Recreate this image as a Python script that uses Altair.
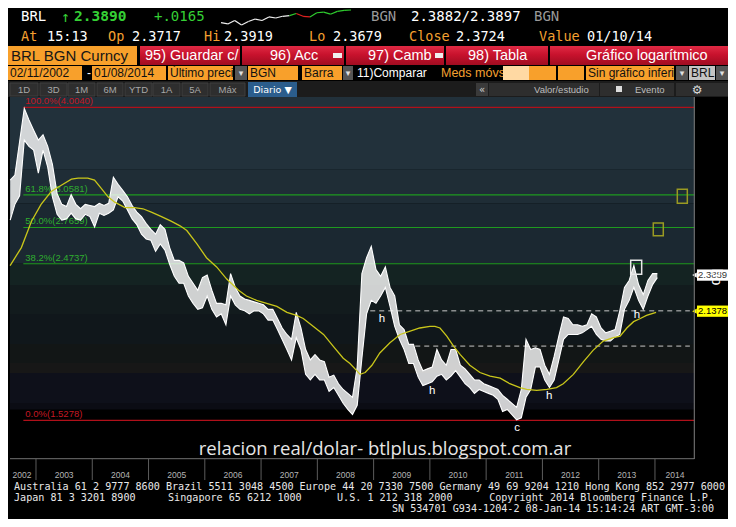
import altair as alt
import pandas as pd

# ------------------------------------------------------------------
# DATA
# ------------------------------------------------------------------
first_year, first_month = 2002, 7
hi_2002 = [3.20, 3.25, 3.60, 3.99, 3.85, 3.73]
lo_2002 = [2.83, 2.97, 3.05, 3.62, 3.55, 3.51]
hi_2003 = [3.62, 3.68, 3.55, 3.36, 3.07, 2.97, 2.95, 3.06, 2.97, 2.93, 2.97, 2.96]
lo_2003 = [3.27, 3.51, 3.33, 3.04, 2.88, 2.83, 2.84, 2.89, 2.84, 2.83, 2.88, 2.86]
hi_2004 = [2.95, 2.98, 2.96, 2.98, 3.23, 3.16, 3.10, 3.04, 2.96, 2.90, 2.86, 2.80]
lo_2004 = [2.77, 2.89, 2.87, 2.89, 2.92, 3.04, 3.00, 2.92, 2.84, 2.79, 2.71, 2.67]
hi_2005 = [2.75, 2.71, 2.79, 2.75, 2.60, 2.50, 2.50, 2.48, 2.38, 2.33, 2.28, 2.37]
lo_2005 = [2.66, 2.57, 2.63, 2.58, 2.47, 2.38, 2.33, 2.33, 2.24, 2.19, 2.15, 2.16]
hi_2006 = [2.39, 2.28, 2.19, 2.19, 2.18, 2.40, 2.30, 2.24, 2.22, 2.21, 2.20, 2.19]
lo_2006 = [2.24, 2.15, 2.10, 2.12, 2.05, 2.24, 2.18, 2.15, 2.14, 2.12, 2.14, 2.14]
hi_2007 = [2.18, 2.15, 2.15, 2.09, 2.03, 1.99, 1.96, 2.13, 2.03, 1.90, 1.84, 1.87]
lo_2007 = [2.12, 2.08, 2.08, 2.02, 1.96, 1.90, 1.84, 1.97, 1.90, 1.76, 1.73, 1.76]
hi_2008 = [1.84, 1.83, 1.745, 1.756, 1.71, 1.68, 1.66, 1.64, 1.80, 2.40, 2.52, 2.61]
lo_2008 = [1.73, 1.73, 1.67, 1.69, 1.65, 1.61, 1.58, 1.555, 1.60, 1.85, 2.12, 2.21]
hi_2009 = [2.43, 2.38, 2.45, 2.30, 2.24, 2.05, 2.02, 1.93, 1.93, 1.84, 1.78, 1.79]
lo_2009 = [2.19, 2.24, 2.30, 2.17, 2.04, 1.96, 1.90, 1.82, 1.82, 1.745, 1.70, 1.71]
hi_2010 = [1.80, 1.90, 1.84, 1.81, 1.90, 1.90, 1.81, 1.79, 1.76, 1.73, 1.73, 1.71]
lo_2010 = [1.72, 1.75, 1.76, 1.73, 1.75, 1.78, 1.745, 1.71, 1.69, 1.66, 1.68, 1.67]
hi_2011 = [1.70, 1.69, 1.68, 1.65, 1.63, 1.61, 1.59, 1.68, 1.96, 1.90, 1.91, 1.90]
lo_2011 = [1.66, 1.65, 1.63, 1.57, 1.58, 1.555, 1.53, 1.54, 1.64, 1.68, 1.80, 1.80]
hi_2012 = [1.81, 1.76, 1.86, 1.98, 2.10, 2.09, 2.05, 2.05, 2.04, 2.05, 2.12, 2.10]
lo_2012 = [1.73, 1.69, 1.73, 1.84, 1.96, 1.99, 1.99, 1.99, 2.00, 2.02, 2.04, 1.99]
hi_2013 = [2.03, 2.00, 2.01, 2.02, 2.14, 2.30, 2.35, 2.46, 2.32, 2.25, 2.35, 2.40]
lo_2013 = [1.96, 1.95, 1.95, 1.975, 1.99, 2.15, 2.21, 2.30, 2.21, 2.15, 2.24, 2.32]
hi_2014 = [2.40]
lo_2014 = [2.37]

ma_year = [2002.54, 2002.74, 2002.92, 2003.09, 2003.27, 2003.45, 2003.63, 2003.75, 2003.92,
           2004.04, 2004.16, 2004.28, 2004.40, 2004.58, 2004.75, 2004.90, 2005.05, 2005.23,
           2005.40, 2005.56, 2005.68, 2005.86, 2006.03, 2006.21, 2006.39, 2006.60, 2006.74,
           2006.92, 2007.10, 2007.28, 2007.46, 2007.63, 2007.75, 2007.93, 2008.11, 2008.28,
           2008.46, 2008.58, 2008.67, 2008.76, 2008.85, 2008.97, 2009.11, 2009.29, 2009.47,
           2009.65, 2009.82, 2010.00, 2010.09, 2010.18, 2010.30, 2010.42, 2010.54, 2010.71,
           2010.89, 2011.07, 2011.25, 2011.42, 2011.60, 2011.72, 2011.90, 2012.08, 2012.25,
           2012.37, 2012.55, 2012.73, 2012.90, 2013.08, 2013.26, 2013.38, 2013.50, 2013.62,
           2013.74, 2013.85, 2014.02]
ma_value = [2.46, 2.60, 2.82, 2.97, 3.09, 3.15, 3.21, 3.22, 3.22,
            3.20, 3.12, 3.04, 2.99, 2.94, 2.94, 2.93, 2.90, 2.86,
            2.82, 2.78, 2.74, 2.63, 2.52, 2.45, 2.36, 2.28, 2.24,
            2.21, 2.19, 2.17, 2.13, 2.11, 2.09, 2.04, 1.99, 1.92,
            1.85, 1.82, 1.79, 1.76, 1.77, 1.81, 1.88, 1.94, 1.99,
            2.01, 2.03, 2.04, 2.04, 2.03, 1.98, 1.92, 1.87, 1.81,
            1.77, 1.75, 1.74, 1.71, 1.69, 1.68, 1.675, 1.68, 1.69,
            1.71, 1.76, 1.83, 1.895, 1.95, 1.97, 1.98, 2.03, 2.07,
            2.09, 2.11, 2.13]

fib_level = [4.0040, 3.0581, 2.7659, 2.4737, 1.5278]
fib_label = ["100.0%(4.0040)", "61.8%(3.0581)", "50.0%(2.7659)", "38.2%(2.4737)", "0.0%(1.5278)"]
fib_start = 2002.775

dash_level = [2.14, 1.92]
dash_start = [2008.94, 2009.74]
dash_end = [2014.62, 2014.62]

note_text = ["h", "h", "h", "h", "c"]
note_year = [2009.15, 2010.04, 2012.12, 2013.68, 2011.55]
note_value = [2.09, 1.671, 1.645, 2.113, 1.494]

sq_x0 = [2013.569, 2013.970, 2014.397]
sq_x1 = [2013.764, 2014.148, 2014.575]
sq_top = [2.500, 2.804, 3.111]
sq_bot = [2.395, 2.697, 2.980]
sq_kind = ["white", "olive", "olive"]

last_price = 2.3889
ma_last = 2.1378

axis_values = [1.5, 2.0, 2.5, 3.0, 3.5, 4.0]
year_labels = [str(y) for y in range(2002, 2015)]
year_label_pos = [2002.751] + [y + 0.5 for y in range(2003, 2014)] + [2014.356]
year_bounds = list(range(2003, 2015))

band_top = [4.133, 3.305, 2.98, 2.4737, 2.317, 2.119, 1.932, 1.823, 1.767, 1.612]
band_bot = [3.305, 2.98, 2.4737, 2.317, 2.119, 1.932, 1.823, 1.767, 1.612, 1.580]
plot_left, plot_right = 2002.538, 2014.699

spark_price = [2.3716, 2.3695, 2.3748, 2.3679, 2.3732, 2.3770, 2.3748, 2.3802, 2.3786, 2.3812,
               2.3823, 2.3855, 2.3812, 2.3802, 2.3866, 2.3876, 2.3844, 2.3887, 2.3903, 2.3908]
spark_state = ["w"] * 11 + ["g"] + ["r", "r"] + ["g"] * 6

# ------------------------------------------------------------------
# STYLE
# ------------------------------------------------------------------
band_color = ["#22313b", "#1f2d36", "#1b2831", "#142322", "#121b1d",
              "#10171b", "#121616", "#171717", "#0e101a", "#0b0c14"]
fib_line_color = ["#b0101a", "#1f9a1f", "#1f9a1f", "#1f9a1f", "#b0101a"]
fib_text_color = ["#c41824", "#2fae2f", "#2fae2f", "#2fae2f", "#c41824"]
sq_color = {"white": "#e8e8e8", "olive": "#9a9a22"}
spark_color = {"w": "#f0f0f0", "g": "#2ecc2e", "r": "#e02020"}
ORANGE = "#f8a02b"
ORANGE_TXT = "#f5a030"
GREEN = "#35d035"

OX, OY = 8, 8
W, H = 720, 511
X_DOM = [2002.5024, 2015.298]
Y_DOM = [1.12765, 5.4354]
xs = alt.Scale(domain=X_DOM, nice=False, zero=False)
ys = alt.Scale(type="log", domain=Y_DOM, nice=False)

# ------------------------------------------------------------------
# TABLES
# ------------------------------------------------------------------
hi_all = hi_2002 + hi_2003 + hi_2004 + hi_2005 + hi_2006 + hi_2007 + hi_2008 + hi_2009 + \
    hi_2010 + hi_2011 + hi_2012 + hi_2013 + hi_2014
lo_all = lo_2002 + lo_2003 + lo_2004 + lo_2005 + lo_2006 + lo_2007 + lo_2008 + lo_2009 + \
    lo_2010 + lo_2011 + lo_2012 + lo_2013 + lo_2014
yrs = []
y, m = first_year, first_month
for _ in hi_all:
    yrs.append(y + (m - 0.5) / 12.0)
    m += 1
    if m > 12:
        m, y = 1, y + 1
price_df = pd.DataFrame({"yr": yrs, "hi": hi_all, "lo": lo_all})
ma_df = pd.DataFrame({"yr": ma_year, "v": ma_value})
fib_df = pd.DataFrame({"lvl": fib_level, "lab": fib_label, "x0": fib_start, "x1": plot_right,
                       "lc": fib_line_color, "tc": fib_text_color})
dash_df = pd.DataFrame({"v": dash_level, "x0": dash_start, "x1": dash_end})
note_df = pd.DataFrame({"t": note_text, "yr": note_year, "v": note_value})
sq_df = pd.DataFrame({"x0": sq_x0, "x1": sq_x1, "top": sq_top, "bot": sq_bot,
                      "c": [sq_color[k] for k in sq_kind]})
band_df = pd.DataFrame({"x0": plot_left, "x1": plot_right, "top": band_top, "bot": band_bot,
                        "c": band_color})
half = 1.0175
vb_df = pd.DataFrame({"v": [last_price, ma_last], "t": ["%.4f" % last_price, "%.4f" % ma_last],
                      "f": ["#ffffff", "#ffff00"], "tc": ["#333333", "#000000"]})
vb_df["vt"] = vb_df["v"] * half
vb_df["vb"] = vb_df["v"] / half
yl_df = pd.DataFrame({"lab": year_labels, "pos": year_label_pos})
yb_df = pd.DataFrame({"pos": year_bounds})
frame_df = pd.DataFrame({"x0": [plot_left], "x1": [plot_right]})

seg_rows = []
for i in range(len(spark_price) - 1):
    seg_rows.append({"i0": i, "i1": i + 1, "p0": spark_price[i], "p1": spark_price[i + 1],
                     "c": spark_color[spark_state[i + 1]]})
spark_df = pd.DataFrame(seg_rows)

# ------------------------------------------------------------------
# MAIN PLOT LAYERS
# ------------------------------------------------------------------
xticks = [2002.6667] + [yy + k / 3.0 for yy in range(2003, 2015) for k in range(3)]
xticks = [t for t in xticks if t <= 2014.69]
x_axis = alt.Axis(orient="bottom", offset=-60.3, values=xticks, labels=False, domain=False,
                  grid=False, ticks=True, tickColor="#8a8a8a", tickSize=3, title=None)
y_axis = alt.Axis(orient="right", offset=-33.7, values=axis_values, format=".4f", domain=False,
                  grid=False, ticks=True, tickColor="#ffffff", tickSize=3, tickWidth=2,
                  labelColor="#d2d2d2", labelFont="Liberation Sans", labelFontSize=9,
                  labelPadding=3, title=None)

bands = alt.Chart(band_df).mark_rect().encode(
    x=alt.X("x0:Q", scale=xs, axis=x_axis), x2="x1:Q",
    y=alt.Y("top:Q", scale=ys, axis=y_axis), y2="bot:Q",
    color=alt.Color("c:N", scale=None))

fib_rules = alt.Chart(fib_df).mark_rule(strokeWidth=1.2).encode(
    x=alt.X("x0:Q", scale=xs, axis=None), x2="x1:Q",
    y=alt.Y("lvl:Q", scale=ys, axis=None),
    color=alt.Color("lc:N", scale=None))
fib_text = alt.Chart(fib_df).mark_text(align="left", baseline="bottom", dx=2, dy=-1,
                                      font="Liberation Sans", fontSize=9.5).encode(
    x=alt.X("x0:Q", scale=xs, axis=None), y=alt.Y("lvl:Q", scale=ys, axis=None),
    text="lab:N", color=alt.Color("tc:N", scale=None))

dashes = alt.Chart(dash_df).mark_rule(color="#c8c8c8", strokeDash=[5, 4], strokeWidth=1).encode(
    x=alt.X("x0:Q", scale=xs, axis=None), x2="x1:Q", y=alt.Y("v:Q", scale=ys, axis=None))

p_area = alt.Chart(price_df).mark_area(color="#ffffff", opacity=0.8).encode(
    x=alt.X("yr:Q", scale=xs, axis=None), y=alt.Y("lo:Q", scale=ys, axis=None), y2="hi:Q")
p_hi = alt.Chart(price_df).mark_line(color="#ffffff", strokeWidth=1.1).encode(
    x=alt.X("yr:Q", scale=xs, axis=None), y=alt.Y("hi:Q", scale=ys, axis=None))
p_lo = alt.Chart(price_df).mark_line(color="#ffffff", strokeWidth=1.1).encode(
    x=alt.X("yr:Q", scale=xs, axis=None), y=alt.Y("lo:Q", scale=ys, axis=None))

ma_line = alt.Chart(ma_df).mark_line(color="#c9c61a", strokeWidth=1.3).encode(
    x=alt.X("yr:Q", scale=xs, axis=None), y=alt.Y("v:Q", scale=ys, axis=None))

squares = alt.Chart(sq_df).mark_rect(fillOpacity=0, strokeWidth=1.5).encode(
    x=alt.X("x0:Q", scale=xs, axis=None), x2="x1:Q",
    y=alt.Y("top:Q", scale=ys, axis=None), y2="bot:Q",
    stroke=alt.Stroke("c:N", scale=None))

notes = alt.Chart(note_df).mark_text(fill="#ffffff", font="Liberation Sans", fontSize=11.5).encode(
    x=alt.X("yr:Q", scale=xs, axis=None), y=alt.Y("v:Q", scale=ys, axis=None), text="t:N")

vb_rect = alt.Chart(vb_df).mark_rect().encode(
    x=alt.value(689), x2=alt.value(720),
    y=alt.Y("vt:Q", scale=ys, axis=None), y2="vb:Q", color=alt.Color("f:N", scale=None))
vb_tri = alt.Chart(vb_df).mark_point(shape="triangle-left", filled=True, size=28, opacity=1).encode(
    x=alt.value(686.5), y=alt.Y("v:Q", scale=ys, axis=None), color=alt.Color("f:N", scale=None))
vb_text = alt.Chart(vb_df).mark_text(font="Liberation Sans", fontSize=9.5, align="center").encode(
    x=alt.value(704.5), y=alt.Y("v:Q", scale=ys, axis=None), text="t:N",
    color=alt.Color("tc:N", scale=None))

frame_b = alt.Chart(frame_df).mark_rule(color="#707070", strokeWidth=1).encode(
    x=alt.X("x0:Q", scale=xs, axis=None), x2="x1:Q", y=alt.value(450.7))
frame_r = alt.Chart(frame_df).mark_rule(color="#808080", strokeWidth=1).encode(
    x=alt.X("x1:Q", scale=xs, axis=None), y=alt.value(89), y2=alt.value(451))
yb_rules = alt.Chart(yb_df).mark_rule(color="#5c5c5c", strokeWidth=1).encode(
    x=alt.X("pos:Q", scale=xs, axis=None), y=alt.value(451), y2=alt.value(472))
yl_text = alt.Chart(yl_df).mark_text(color="#b4b4b4", font="Liberation Sans", fontSize=8.5).encode(
    x=alt.X("pos:Q", scale=xs, axis=None), y=alt.value(467), text="lab:N")

main = alt.layer(bands, fib_rules, fib_text, dashes, p_area, p_hi, p_lo, ma_line,
                 squares, notes, vb_rect, vb_tri, vb_text, frame_b, frame_r, yb_rules, yl_text)

spark = alt.Chart(spark_df).mark_rule(strokeWidth=1.2).encode(
    x=alt.X("i0:Q", scale=alt.Scale(domain=[0, len(spark_price) - 1], range=[213, 343]), axis=None),
    x2="i1:Q",
    y=alt.Y("p0:Q", scale=alt.Scale(domain=[min(spark_price), max(spark_price)], range=[17, 2],
                                     zero=False, nice=False), axis=None),
    y2="p1:Q",
    color=alt.Color("c:N", scale=None))

# ------------------------------------------------------------------
# TERMINAL DECORATION (header / footer)
# ------------------------------------------------------------------
ONE = alt.Data(values=[{"a": 1}])


def txt(s, x, y, color="#ffffff", size=13.0, font="DejaVu Sans Mono", align="left",
        weight="normal", angle=0):
    return alt.Chart(ONE).mark_text(text=s, align=align, baseline="middle", color=color,
                                    fontSize=size, font=font, fontWeight=weight,
                                    angle=angle).encode(x=alt.value(x - OX), y=alt.value(y - OY))


def box(x0, y0, x1, y1, fill, stroke=None, sw=1.0):
    kw = {"fill": fill}
    if stroke is not None:
        kw["stroke"] = stroke
        kw["strokeWidth"] = sw
    return alt.Chart(ONE).mark_rect(**kw).encode(
        x=alt.value(x0 - OX), x2=alt.value(x1 - OX), y=alt.value(y0 - OY), y2=alt.value(y1 - OY))


red_grad = alt.LinearGradient(gradient="linear", x1=0, x2=0, y1=0, y2=1, stops=[
    alt.GradientStop(color="#e02a44", offset=0),
    alt.GradientStop(color="#c8122d", offset=0.45),
    alt.GradientStop(color="#a00c21", offset=1)])

deco = []
# line 1
deco += [txt("BRL", 21, 17, "#ffffff", 14),
         txt("↑", 61, 17, GREEN, 15),
         txt("2.3890", 74, 17, GREEN, 14.5, weight="bold"),
         txt("+.0165", 154, 17, GREEN, 14),
         txt("BGN", 371, 17, "#9a9a9a", 14),
         txt("2.3882/2.3897", 411, 17, "#ffffff", 14),
         txt("BGN", 534, 17, "#9a9a9a", 14)]
# line 2
for lab, lx, val, vx in [("At", 21, "15:13", 47), ("Op", 108, "2.3717", 132),
                         ("Hi", 204, "2.3919", 224), ("Lo", 309, "2.3679", 333),
                         ("Close", 409, "2.3724", 456), ("Value", 539, "01/10/14", 587)]:
    deco += [txt(lab, lx, 37, ORANGE_TXT, 13.5), txt(val, vx, 37, "#ffffff", 13.5)]
# red button row
deco += [box(8, 46, 137, 65, ORANGE),
         txt("BRL BGN Curncy", 11, 56, "#161616", 15, "Liberation Sans")]
for bx0, bx1, lab, lx in [(140, 240, "95) Guardar c/", 145), (242, 344, "96) Acc", 270),
                          (346, 444, "97) Camb", 368), (446, 548, "98) Tabla", 468),
                          (550, 728, "Gráfico logarítmico", 586)]:
    deco += [box(bx0, 46, bx1, 65, red_grad), txt(lab, lx, 56, "#ffffff", 14.5, "Liberation Sans")]
deco += [box(333, 53, 342, 58, "#f0f0f0"), box(435, 53, 443, 58, "#f0f0f0")]
# orange row
for bx0, bx1, lab, col, tcol in [(8, 82, "  02/11/2002", ORANGE, "#111111"),
                                 (92, 166, "  01/08/2014", ORANGE, "#111111"),
                                 (168, 233, "Último preci", ORANGE, "#111111"),
                                 (248, 298, "BGN", ORANGE, "#111111"),
                                 (302, 342, " Barra", ORANGE, "#111111"),
                                 (586, 674, "Sin gráfico inferi", ORANGE, "#111111"),
                                 (689, 715, "BRL", "#c4c4c4", "#111111")]:
    deco += [box(bx0, 66, bx1, 80, col), txt(lab, bx0 + 2, 73, tcol, 12, "Liberation Sans")]
for dx0, dx1 in [(235, 247), (343, 353), (676, 688), (716, 728)]:
    deco += [box(dx0, 66, dx1, 80, "#555555"),
             txt("▾", (dx0 + dx1) / 2, 73, "#e0e0e0", 9, "DejaVu Sans", align="center")]
deco += [txt("-", 87, 73, "#ffffff", 12, "Liberation Sans"),
         txt("11)Comparar", 357, 73, "#ffffff", 12, "Liberation Sans"),
         txt("Meds móvs", 441, 73, ORANGE_TXT, 12.5, "Liberation Sans"),
         box(503, 66, 529, 80, "#ffd9a3"), box(529, 66, 556, 80, ORANGE), box(558, 66, 584, 80, ORANGE)]
# gray tab row
deco += [box(8, 81, 728, 97, "#1c1c1c")]
for tx0, tx1, lab in [(10, 38, "1D"), (40, 67, "3D"), (68, 95, "1M"), (97, 123, "6M"),
                      (125, 152, "YTD"), (153, 180, "1A"), (182, 208, "5A"), (210, 245, "Máx")]:
    deco += [box(tx0, 83, tx1, 96, "#2e2e2e", "#3e3e3e", 1),
             txt(lab, (tx0 + tx1) / 2, 89.5, "#a8a8a8", 9.5, "Liberation Sans", align="center")]
deco += [box(248, 82, 297, 97, "#2b5d8c"),
         txt("Diario ▼", 272.5, 89.5, "#ffffff", 9.5, "DejaVu Sans", align="center"),
         box(476, 83, 488, 96, "#3a3a3a"),
         txt("«", 482, 89.5, "#d0d0d0", 10, "DejaVu Sans", align="center"),
         box(489, 83, 599, 96, "#2e2e2e"),
         txt("Valor/estudio", 534, 89.5, "#bdbdbd", 9.5, "Liberation Sans"),
         box(600, 83, 674, 96, "#2e2e2e"),
         box(616, 86, 622, 92, "#dddddd"),
         txt("Evento", 635, 89.5, "#bdbdbd", 9.5, "Liberation Sans"),
         box(676, 83, 728, 96, "#2e2e2e"),
         txt("⚙", 697, 89.5, "#d8d8d8", 12, "DejaVu Sans", align="center")]
# plot annotations outside data
deco += [txt("bp", 717, 277, "#ffffff", 15, "Liberation Sans", align="center", angle=90),
         txt("relacion real/dolar- btlplus.blogspot.com.ar", 385, 448.5, "#e6e6e6", 18.5,
             "Open Sans", align="center")]
# footer
FS = 10.1
deco += [txt("Australia 61 2 9777 8600 Brazil 5511 3048 4500 Europe 44 20 7330 7500 "
             "Germany 49 69 9204 1210 Hong Kong 852 2977 6000", 14, 487, "#e8e8e8", FS),
         txt("Japan 81 3 3201 8900", 14, 498, "#e8e8e8", FS),
         txt("Singapore 65 6212 1000", 168, 498, "#e8e8e8", FS),
         txt("U.S. 1 212 318 2000", 337, 498, "#e8e8e8", FS),
         txt("Copyright 2014 Bloomberg Finance L.P.", 714, 498, "#e8e8e8", FS, align="right"),
         txt("SN 534701 G934-1204-2 08-Jan-14 15:14:24 ART  GMT-3:00", 714, 509, "#e8e8e8", FS,
             align="right")]

chart = alt.layer(main, spark, *deco).resolve_scale(
    x="independent", y="independent"
).properties(
    width=W, height=H, background="#000000", padding=0,
    autosize=alt.AutoSizeParams(type="none")
).configure_view(strokeWidth=0)

chart.save("out.html", embed_options={"renderer": "svg", "actions": False})
